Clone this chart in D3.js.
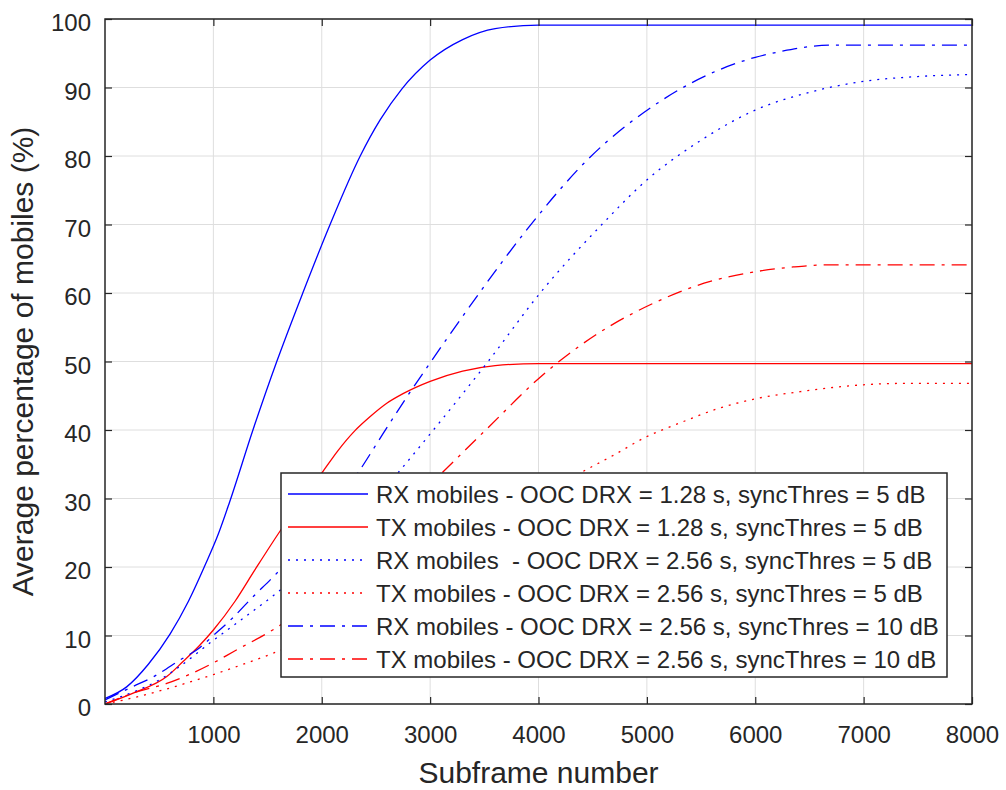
<!DOCTYPE html>
<html>
<head>
<meta charset="utf-8">
<script src="https://cdn.jsdelivr.net/npm/d3@7"></script>
<style>
  html, body { margin: 0; padding: 0; background: #fff; }
  svg text { font-family: "Liberation Sans", Arial, Helvetica, sans-serif; fill: #262626; }
</style>
</head>
<body>
<svg id="chart" width="1006" height="790"></svg>
<script>
// ---- data ----
const xTicks = [1000, 2000, 3000, 4000, 5000, 6000, 7000, 8000];
const yTicks = [0, 10, 20, 30, 40, 50, 60, 70, 80, 90, 100];

const rx128 = [[0,0.8],[200,2.5],[400,5.8],[600,10.2],[770,15],[930,20.5],[1050,25],[1150,29.5],[1365,40],[1585,50],[1825,60],[2077,70],[2355,80],[2540,85.3],[2740,89.8],[3000,94],[3300,97],[3600,98.6],[4000,99.1],[8000,99.1]];
const tx128 = [[0,0],[260,1.6],[570,4],[720,6.2],[870,8.5],[1000,10.8],[1200,15],[1380,19.5],[1622,25.4],[2000,33.7],[2150,37],[2300,39.8],[2450,42],[2600,43.9],[2750,45.3],[3000,47.1],[3300,48.6],[3600,49.4],[4000,49.7],[8000,49.7]];
const rx256_5 = [[0,0.3],[300,2],[500,3.5],[700,5.6],[1000,9.3],[1300,12.8],[1567,16],[2700,33.7],[3030,40],[3535,50],[4015,60],[4585,70],[5000,76.5],[5500,82.3],[6000,86.7],[6500,89.3],[7000,90.9],[7500,91.6],[8000,91.9]];
const tx256_5 = [[0,0],[260,0.9],[720,2.9],[1000,4.3],[1275,5.8],[1550,7.4],[4440,34.2],[4690,36.3],[4995,39],[5300,41],[5670,43.2],[6015,44.6],[6415,45.6],[7000,46.6],[7370,46.8],[8000,46.8]];
const rx256_10 = [[0,0.6],[250,2.5],[450,4],[690,6.4],[880,8.3],[1000,10],[1180,12.6],[1350,15.4],[1567,18.8],[2333,33.7],[2567,39.5],[2780,44.7],[3000,49.8],[3445,59.8],[3905,69.5],[4455,79.5],[5125,88],[5670,92.6],[6000,94.4],[6250,95.3],[6700,96.2],[8000,96.2]];
const tx256_10 = [[0,0],[260,1.6],[570,3],[1000,6],[1180,7.6],[1567,11],[3120,33.9],[3500,39.8],[4073,48.5],[4530,53.9],[5060,58.5],[5585,61.7],[6000,63.1],[6350,63.8],[6650,64.1],[8000,64.1]];

const seriesNames = [
  "RX mobiles - OOC DRX = 1.28 s, syncThres = 5 dB",
  "TX mobiles - OOC DRX = 1.28 s, syncThres = 5 dB",
  "RX mobiles  - OOC DRX = 2.56 s, syncThres = 5 dB",
  "TX mobiles - OOC DRX = 2.56 s, syncThres = 5 dB",
  "RX mobiles - OOC DRX = 2.56 s, syncThres = 10 dB",
  "TX mobiles - OOC DRX = 2.56 s, syncThres = 10 dB"
];
const seriesData = [rx128, tx128, rx256_5, tx256_5, rx256_10, tx256_10];
const seriesColors = ["#0000ff", "#ff0000", "#0000ff", "#ff0000", "#0000ff", "#ff0000"];
const seriesDash = [null, null, "2,6", "2,6", "15,7,3,7", "15,7,3,7"];

// ---- layout ----
const L = 105, R = 972, T = 19, B = 704;
const svg = d3.select("#chart");
const x = d3.scaleLinear().domain([0, 8000]).range([L, R]);
const y = d3.scaleLinear().domain([0, 100]).range([B, T]);

// grid
const grid = svg.append("g");
grid.selectAll("line.gx").data(xTicks).join("line")
  .attr("x1", d => x(d)).attr("x2", d => x(d)).attr("y1", T).attr("y2", B)
  .attr("stroke", "#dedede").attr("stroke-width", 1);
grid.selectAll("line.gy").data(yTicks).join("line")
  .attr("y1", d => y(d)).attr("y2", d => y(d)).attr("x1", L).attr("x2", R)
  .attr("stroke", "#dedede").attr("stroke-width", 1);

// lines
svg.append("clipPath").attr("id", "clip").append("rect")
  .attr("x", L).attr("y", T - 2).attr("width", R - L).attr("height", B - T + 2);
const line = d3.line().x(d => x(d[0])).y(d => y(d[1])).curve(d3.curveMonotoneX);
const lines = svg.append("g").attr("clip-path", "url(#clip)");
seriesData.forEach((s, i) => {
  lines.append("path").datum(s)
    .attr("d", line)
    .attr("fill", "none")
    .attr("stroke", seriesColors[i])
    .attr("stroke-width", 1.3)
    .attr("stroke-dasharray", seriesDash[i]);
});

// axes (box with inward ticks on all sides)
const tickLen = 7;
const axisColor = "#262626";
const axBottom = d3.axisBottom(x).tickValues(xTicks).tickFormat(d3.format("d")).tickSizeInner(-tickLen).tickSizeOuter(0).tickPadding(0);
const axLeft = d3.axisLeft(y).tickValues(yTicks).tickFormat(d3.format("d")).tickSizeInner(-tickLen).tickSizeOuter(0).tickPadding(0);
const axTop = d3.axisTop(x).tickValues(xTicks).tickSizeInner(-tickLen).tickSizeOuter(0).tickFormat("");
const axRight = d3.axisRight(y).tickValues(yTicks).tickSizeInner(-tickLen).tickSizeOuter(0).tickFormat("");

function styleAxis(g) {
  g.select(".domain").remove();
  g.selectAll(".tick line").attr("stroke", axisColor).attr("stroke-width", 1.2);
}
const gB = svg.append("g").attr("transform", `translate(0,${B})`).call(axBottom).call(styleAxis);
gB.selectAll(".tick text").attr("y", 39).attr("dy", null)
  .style("font-size", "24px").attr("fill", axisColor)
  .style("font-family", '"Liberation Sans", Arial, sans-serif');
const gL = svg.append("g").attr("transform", `translate(${L},0)`).call(axLeft).call(styleAxis);
gL.selectAll(".tick text").attr("x", -14).attr("dy", null).attr("y", 11.5)
  .style("font-size", "24px").attr("fill", axisColor)
  .style("font-family", '"Liberation Sans", Arial, sans-serif');
svg.append("g").attr("transform", `translate(0,${T})`).call(axTop).call(styleAxis);
svg.append("g").attr("transform", `translate(${R},0)`).call(axRight).call(styleAxis);

svg.append("rect").attr("x", L).attr("y", T).attr("width", R - L).attr("height", B - T)
  .attr("fill", "none").attr("stroke", axisColor).attr("stroke-width", 1.5);

// axis labels
svg.append("text").attr("x", (L + R) / 2).attr("y", 783)
  .attr("text-anchor", "middle").style("font-size", "30px")
  .text("Subframe number");
svg.append("text")
  .attr("transform", `translate(33,${(T + B) / 2}) rotate(-90)`)
  .attr("text-anchor", "middle").style("font-size", "30px")
  .text("Average percentage of mobiles (%)");

// legend
const lg = svg.append("g");
const LX0 = 281, LX1 = 947, LY0 = 473, LY1 = 677;
lg.append("rect").attr("x", LX0).attr("y", LY0).attr("width", LX1 - LX0).attr("height", LY1 - LY0)
  .attr("fill", "#fff").attr("stroke", axisColor).attr("stroke-width", 1.5);
const rowY = d3.scalePoint().domain(d3.range(seriesNames.length)).range([494, 659]);
seriesNames.forEach((name, i) => {
  const cy = rowY(i);
  lg.append("line").attr("x1", 288).attr("x2", 368).attr("y1", cy).attr("y2", cy)
    .attr("stroke", seriesColors[i]).attr("stroke-width", 1.3)
    .attr("stroke-dasharray", seriesDash[i]);
  lg.append("text").attr("x", 376).attr("y", cy + 8.5)
    .style("font-size", "24px").style("white-space", "pre")
    .attr("xml:space", "preserve")
    .text(name);
});
</script>
</body>
</html>
